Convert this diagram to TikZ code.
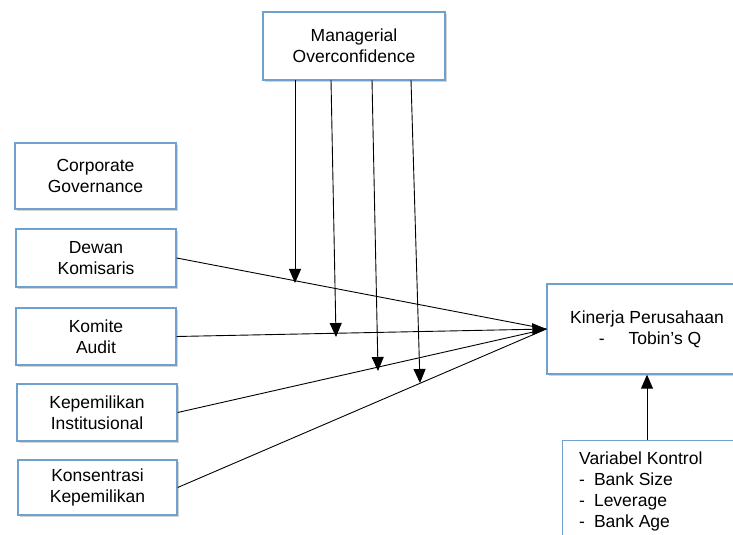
\documentclass[tikz,border=0pt]{standalone}
\usepackage{fontspec}
\setmainfont{Liberation Sans}
\usetikzlibrary{arrows.meta,shadows}
\definecolor{boxblue}{RGB}{112,160,208}
\begin{document}
\begin{tikzpicture}[x=1pt,y=1pt,
  box/.style={draw=boxblue,line width=1.4pt,fill=white,align=center,
    font=\fontsize{17.5}{21}\selectfont,inner sep=2pt,
    drop shadow={opacity=0.35,shadow xshift=2pt,shadow yshift=-2pt}},
  plainbox/.style={draw=boxblue,line width=1.4pt,fill=white},
  conn/.style={line width=0.9pt},
  arr/.style={conn,-{Triangle[length=14pt,width=12pt]}}]
\useasboundingbox (0,0) rectangle (733,535);
\node[box,minimum width=182pt,minimum height=68pt] (mo) at (354,489) {Managerial\\Overconfidence};
\node[box,minimum width=161pt,minimum height=66pt] (cg) at (95.5,359) {Corporate\\Governance};
\node[box,minimum width=160pt,minimum height=58pt] (dk) at (96,277) {Dewan\\Komisaris};
\node[box,minimum width=160pt,minimum height=57pt] (ka) at (96,198.5) {Komite\\Audit};
\node[box,minimum width=160pt,minimum height=57pt] (ki) at (97,122.5) {Kepemilikan\\Institusional};
\node[box,minimum width=159pt,minimum height=55pt] (kk) at (97.5,47.5) {Konsentrasi\\Kepemilikan};
\node[box,minimum width=200pt,minimum height=90pt] (kp) at (647,206) {Kinerja Perusahaan\\\hspace*{6pt}-\hspace{24pt}Tobin’s Q};
\fill[black,opacity=0.2] (564,-4) rectangle (740,93);
\node[plainbox,minimum width=176pt,minimum height=97pt,anchor=north west,inner sep=0pt] (vk) at (562,95) {};
\node[anchor=north west,align=left,font=\fontsize{17.5}{21}\selectfont,inner sep=0pt] (vkt) at (579,83) {Variabel Kontrol\\-\hspace{9pt}Bank Size\\-\hspace{9pt}Leverage\\-\hspace{9pt}Bank Age};
\coordinate (e1) at (295,252);
\coordinate (e2) at (336,198);
\coordinate (e3) at (378,164);
\coordinate (e4) at (420,152);
\coordinate (s1) at (295,455);
\coordinate (s2) at (331,455);
\coordinate (s3) at (372,455);
\coordinate (s4) at (411,455);
\draw[conn] (dk.east) -- (kp.west);
\draw[conn] (ki.east) -- (kp.west);
\draw[conn] (kk.east) -- (kp.west);
\draw[arr] (ka.east) -- (kp.west);
\draw[arr] (s1) -- (e1);
\draw[arr] (s2) -- (e2);
\draw[arr] (s3) -- (e3);
\draw[arr] (s4) -- (e4);
\draw[arr] (vk.north -| kp.south) -- (kp.south);
\end{tikzpicture}
\end{document}
